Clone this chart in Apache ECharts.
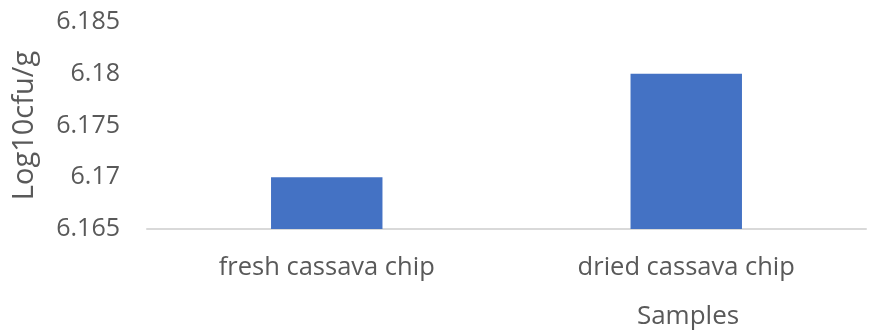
<!DOCTYPE html>
<html><head><meta charset="utf-8">
<script src="https://cdn.jsdelivr.net/npm/echarts@6/dist/echarts.min.js"></script>
<style>html,body{margin:0;padding:0;background:#fff}#c{width:894px;height:333px}</style>
</head><body><div id="c"></div>
<script>
const categories = ["fresh cassava chip", "dried cassava chip"];
const values = [6.17, 6.18];
const yMin = 6.165, yMax = 6.185, yStep = 0.005;
const yTitle = "Log10cfu/g";
const xTitle = "Samples";

const chart = echarts.init(document.getElementById('c'));
const font = "'Open Sans', sans-serif";
chart.setOption({
  animation: false,
  title: { text: xTitle, left: 683, top: 299, textAlign: 'center',
    textStyle: { fontFamily: font, fontSize: 26, fontWeight: 'normal', color: '#595959' } },
  grid: { left: 147, right: 28, top: 22, bottom: 104 },
  xAxis: {
    type: 'category', data: categories,
    axisLine: { lineStyle: { color: '#D9D9D9', width: 2 } },
    axisTick: { show: false },
    axisLabel: { fontFamily: font, fontSize: 25.5, color: '#595959', margin: 26 }
  },
  yAxis: {
    type: 'value', min: yMin, max: yMax, interval: yStep,
    name: yTitle, nameLocation: 'middle', nameGap: 108, nameRotate: 90,
    nameTextStyle: { fontFamily: font, fontSize: 29, color: '#595959' },
    axisLine: { show: false }, axisTick: { show: false }, splitLine: { show: false },
    axisLabel: { fontFamily: font, fontSize: 25, color: '#595959', margin: 27,
      formatter: v => String(parseFloat(v.toFixed(3))) }
  },
  series: [{ type: 'bar', data: values, barWidth: '31%',
    itemStyle: { color: '#4472C4' } }]
});
</script></body></html>
